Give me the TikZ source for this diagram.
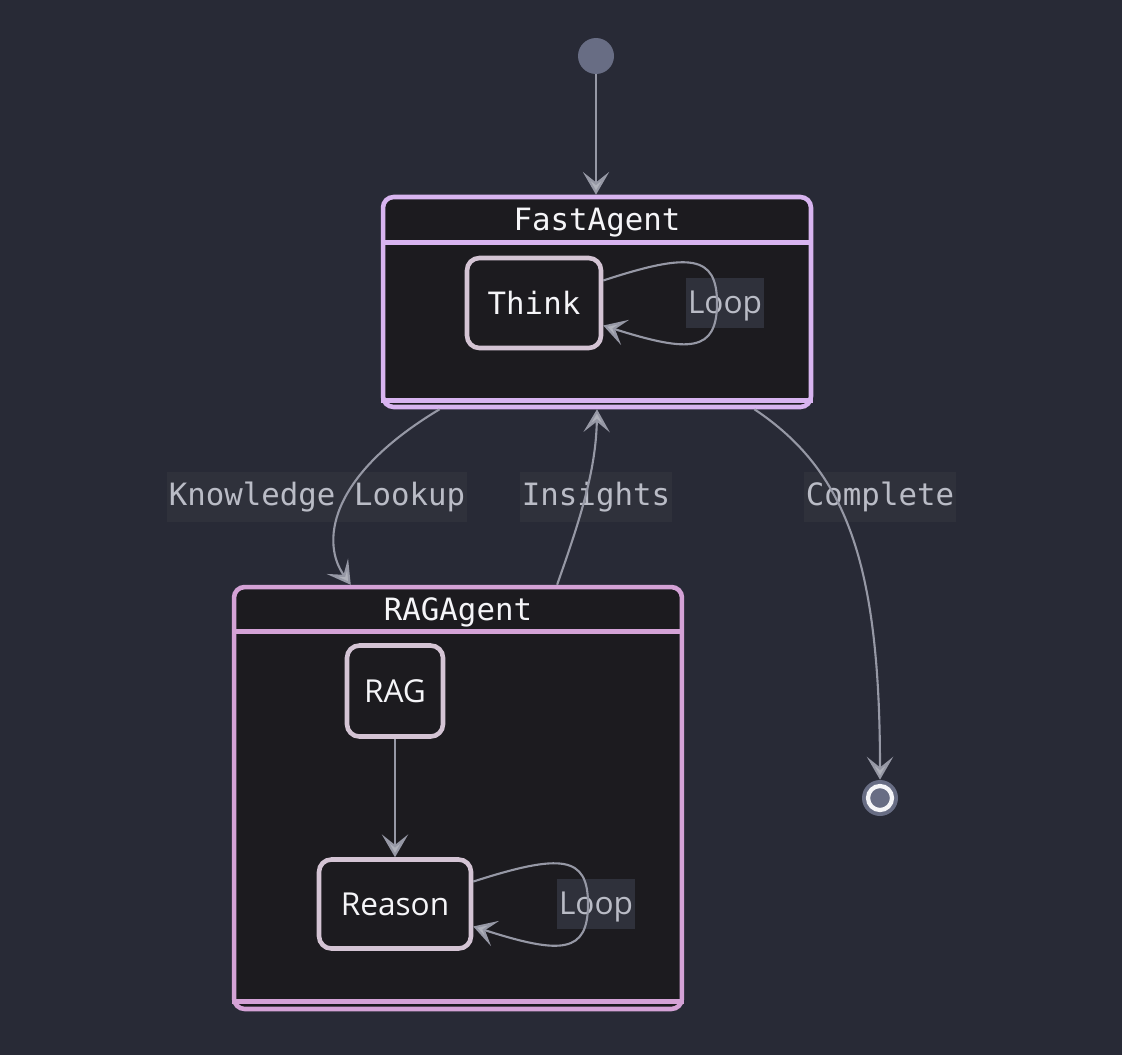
\documentclass[tikz,border=0pt]{standalone}
\usepackage{fontspec}
\setmainfont{Open Sans}
\setmonofont{DejaVu Sans Mono}
\usepackage{tikz}
\usetikzlibrary{arrows.meta, calc, backgrounds}
\definecolor{bgcolor}{RGB}{40, 42, 54}
\definecolor{boxcolor}{RGB}{28, 27, 31}
\definecolor{fastborder}{RGB}{216, 180, 240}
\definecolor{ragborder}{RGB}{212, 162, 214}
\definecolor{statecolor}{RGB}{212, 196, 212}
\definecolor{edgecolor}{RGB}{150, 152, 165}
\definecolor{labeltext}{RGB}{186, 188, 198}
\definecolor{labelbg}{RGB}{47, 49, 59}
\definecolor{titletext}{RGB}{245, 245, 248}
\definecolor{pseudocolor}{RGB}{104, 109, 132}

\begin{document}
\begin{tikzpicture}[
    x=0.02cm, y=-0.02cm,
    agent/.style={draw=#1, line width=2.6pt, fill=boxcolor, rounded corners=6pt, inner sep=0pt},
    agentline/.style={draw=#1, line width=2.6pt},
    agenttitle/.style={text=titletext, font=\fontsize{17.5}{20}\selectfont\ttfamily},
    state/.style={draw=statecolor, line width=2.6pt, fill=boxcolor, rounded corners=7pt, text=titletext, inner sep=0pt},
    monotext/.style={font=\fontsize{17.5}{20}\selectfont\ttfamily},
    sanstext/.style={font=\fontsize{18}{20}\selectfont},
    edgelabel/.style={fill=labelbg, text=labeltext, inner xsep=1pt, minimum height=1cm},
    looplabel/.style={edgelabel, sanstext, minimum width=1.52cm, text height=12pt, text depth=0pt},
    trans/.style={draw=edgecolor, line width=1.2pt, -{Stealth[length=13pt, width=15pt, inset=6pt, fill=edgecolor!75!white]}},
    pseudo/.style={circle, fill=pseudocolor, inner sep=0pt, minimum size=0.72cm}
]
    % Background
    \useasboundingbox[fill=bgcolor] (0,0) rectangle (1122,1055);

    % FastAgent composite
    \node[agent=fastborder, minimum width=8.56cm, minimum height=4.2cm] (fast) at (597,302) {};
    \draw[agentline=fastborder] ($(fast.north west)+(0,48)$) -- ($(fast.north east)+(0,48)$);
    \draw[agentline=fastborder] ($(fast.south west)+(0,-9)$) -- ($(fast.south east)+(0,-9)$);
    \node[agenttitle] (fasttitle) at (597,223) {FastAgent};

    % RAGAgent composite
    \node[agent=ragborder, minimum width=8.96cm, minimum height=8.44cm] (ragagent) at (458,798) {};
    \draw[agentline=ragborder] ($(ragagent.north west)+(0,47)$) -- ($(ragagent.north east)+(0,47)$);
    \draw[agentline=ragborder] ($(ragagent.south west)+(0,-10)$) -- ($(ragagent.south east)+(0,-10)$);
    \node[agenttitle] (ragtitle) at (458,612) {RAGAgent};

    % Inner states
    \node[state, monotext, minimum width=2.68cm, minimum height=1.8cm] (think) at (534,303) {Think};
    \node[state, sanstext, minimum width=1.92cm, minimum height=1.82cm] (rag) at (395,691) {RAG};
    \node[state, sanstext, minimum width=3.04cm, minimum height=1.78cm] (reason) at (395,904) {Reason};

    % Start and end
    \node[pseudo] (start) at (596,56) {};
    \node[pseudo] (endstate) at (880,798) {};
    \node[circle, draw=titletext, line width=2.4pt, fill=pseudocolor, inner sep=0pt, minimum size=0.48cm] (endring) at (endstate) {};

    % Labels
    \node[looplabel] (thinkloop) at (725,303) {Loop};
    \node[looplabel] (reasonloop) at (596,904) {Loop};
    \node[edgelabel, monotext] (lookup) at (317,497) {Knowledge Lookup};
    \node[edgelabel, monotext] (insights) at (596,497) {Insights};
    \node[edgelabel, monotext] (complete) at (880,497) {Complete};

    % Transitions
    \draw[trans] (start) -- (start |- fast.north);
    \draw[trans] (think.18) .. controls (690,252) and (717,255) .. (717,303) .. controls (717,352) and (690,353) .. (think.-18);
    \draw[trans] (rag) -- (reason);
    \draw[trans] (reason.16) .. controls (562,853) and (588,856) .. (588,904) .. controls (588,953) and (562,955) .. (reason.-16);
    \draw[trans] ($(fast.south west)!0.136!(fast.south east)$) .. controls (325,478) and (322,545) .. ($(ragagent.north west)!0.263!(ragagent.north east)$);
    \draw[trans] ($(ragagent.north west)!0.719!(ragagent.north east)$) .. controls (580,520) and (596,470) .. (fast.south);
    \draw[trans] ($(fast.south west)!0.864!(fast.south east)$) .. controls (845,470) and (880,560) .. (endstate.north);
\end{tikzpicture}
\end{document}
